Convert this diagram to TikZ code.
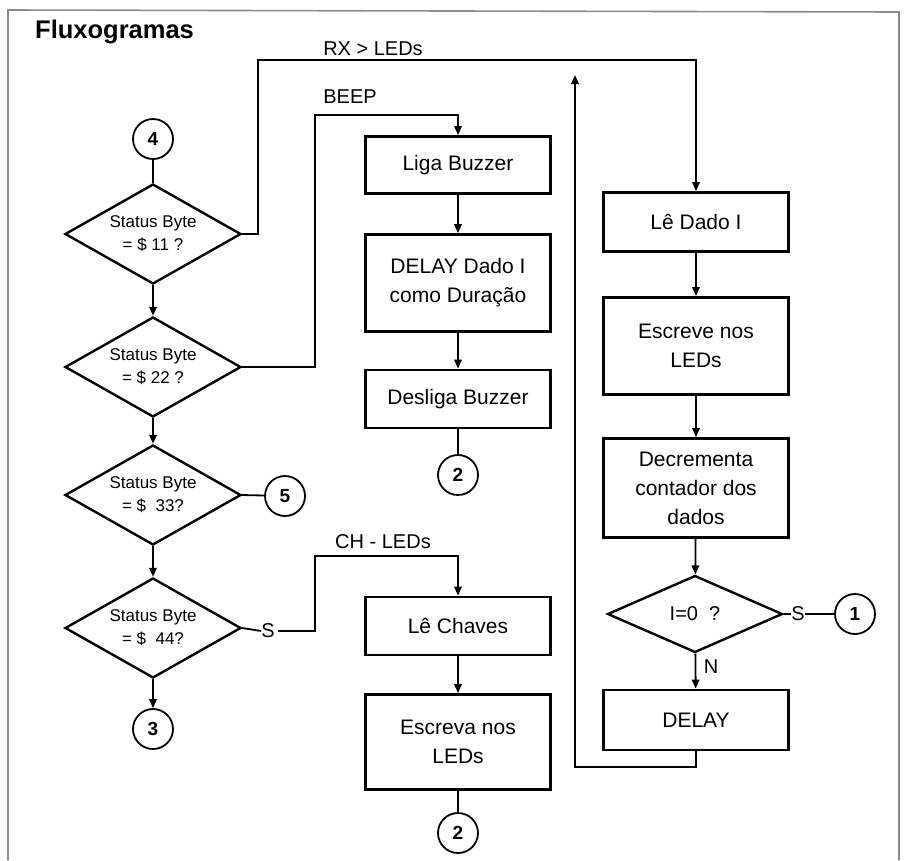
\documentclass[tikz,border=0pt]{standalone}
\usepackage{fontspec}
\setmainfont{Liberation Sans}
\usetikzlibrary{shapes.geometric,arrows.meta}
\tikzset{
  every node/.style={font=\fontsize{21}{29}\selectfont},
  proc/.style={draw, line width=2.8pt, minimum width=185pt, align=center, inner sep=0pt},
  decide/.style={draw, diamond, line width=2.4pt, inner sep=0pt, align=center,
                 font=\fontsize{17}{23}\selectfont},
  conn/.style={draw, circle, line width=1.8pt, minimum size=40pt, inner sep=0pt,
               font=\fontsize{19}{23}\selectfont},
  lbl/.style={inner sep=0pt, font=\fontsize{20}{24}\selectfont},
  wire/.style={line width=1.8pt},
  arr/.style={wire, -{Triangle[length=9pt,width=7.5pt]}},
  frame/.style={draw=black!45, line width=1.6pt}
}
\begin{document}
\begin{tikzpicture}[x=1pt,y=-1pt]
\useasboundingbox (0,0) rectangle (907,860);
% outer frame
\draw[frame] (8,860) -- (8,10) -- (899,12) -- (899,860);
\node[anchor=base west, inner sep=0pt, font=\bfseries\fontsize{25.5}{28}\selectfont] (title) at (35,38) {Fluxogramas};

% left column: status byte tests
\node[conn] (c4) at (153,139) {\textbf{4}};
\node[decide, minimum width=176pt, minimum height=100pt, aspect=1.76] (d1) at (153,234) {Status Byte\\= \$ 11 ?};
\node[decide, minimum width=176pt, minimum height=100pt, aspect=1.76] (d2) at (153,367) {Status Byte\\= \$ 22 ?};
\node[decide, minimum width=176pt, minimum height=100pt, aspect=1.76] (d3) at (153,495) {Status Byte\\= \$\ \ 33?};
\node[decide, minimum width=176pt, minimum height=100pt, aspect=1.76] (d4) at (153,628) {Status Byte\\= \$\ \ 44?};
\node[conn] (c3) at (153,729) {\textbf{3}};
\node[conn] (c5) at (285,496) {\textbf{5}};
\node[lbl] (s4) at (268,631) {S};

% middle column: BEEP and CH - LEDs
\node[proc, minimum height=57pt] (lb) at (458,165) {Liga Buzzer};
\node[proc, minimum height=97pt] (dl) at (458,283) {DELAY Dado I\\como Duração};
\node[proc, minimum height=58pt] (db) at (458,399) {Desliga Buzzer};
\node[conn] (c2a) at (458,475) {\textbf{2}};
\node[proc, minimum height=58pt] (lc) at (458,626) {Lê Chaves};
\node[proc, minimum height=95pt] (ew) at (458,742) {Escreva nos\\LEDs};
\node[conn] (c2b) at (458,833) {\textbf{2}};

% right column: RX > LEDs
\node[proc, minimum height=59pt] (ld) at (696,222) {Lê Dado I};
\node[proc, minimum height=97pt] (el) at (696,346) {Escreve nos\\LEDs};
\node[proc, minimum height=99pt] (dec) at (696,488) {Decrementa\\contador dos\\dados};
\node[decide, minimum width=175pt, minimum height=77pt, aspect=2.27,
      font=\fontsize{20}{24}\selectfont] (dz) at (695,614) {I=0\ \ ?};
\node[proc, minimum height=60pt] (dly) at (696,720) {DELAY};
\node[lbl] (sz) at (798,614) {S};
\node[conn] (c1) at (855,614) {\textbf{1}};

% branch labels
\node[lbl] (rxl) at (373,49) {RX > LEDs};
\node[lbl] (bpl) at (350,97) {BEEP};
\node[lbl] (chl) at (383,542) {CH - LEDs};
\node[lbl] (nl) at (711,667) {N};

% bend points of the branch lines
\coordinate (rxc) at (258,60);
\coordinate (bpc) at (315,115);
\coordinate (chc) at (315,556);
\coordinate (lpb) at (575,767);
\coordinate (lpt) at (575,75);

% left column flow
\draw[wire] (c4) -- (d1);
\draw[arr] (d1) -- (d2);
\draw[arr] (d2) -- (d3);
\draw[arr] (d3) -- (d4);
\draw[arr] (d4) -- (c3);
\draw[wire] (d3.east) -- (c5);
\draw[wire] (d4.east) -- (s4.west);

% branches
\draw[arr] (d1.east) -| (rxc) -| (ld.north);
\draw[arr] (d2.east) -| (bpc) -| (lb.north);
\draw[arr] (s4.east) ++(3,0) -| (chc) -| (lc.north);

% middle column flow
\draw[arr] (lb) -- (dl);
\draw[arr] (dl) -- (db);
\draw[wire] (db) -- (c2a);
\draw[arr] (lc) -- (ew);
\draw[wire] (ew) -- (c2b);

% right column flow
\draw[arr] (ld) -- (el);
\draw[arr] (el) -- (dec);
\draw[arr] (dec) -- (dz);
\draw[arr] (dz) -- (dly);
\draw[wire] (dz.east) -- (sz.west);
\draw[wire] (sz.east) -- (c1);
\draw[arr] (dly.south) |- (lpb) -- (lpt);
\end{tikzpicture}
\end{document}
